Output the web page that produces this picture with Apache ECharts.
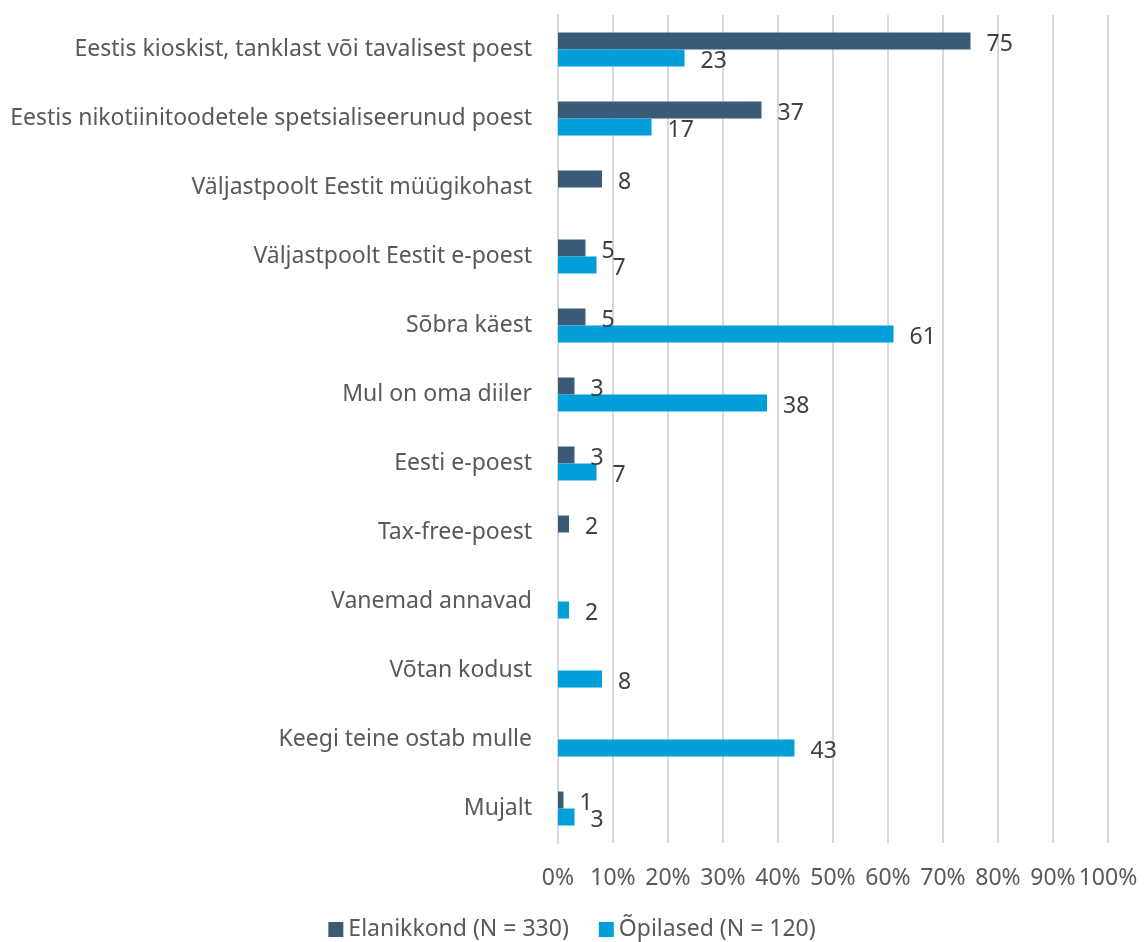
<!DOCTYPE html>
<html>
<head>
<meta charset="utf-8">
<script src="https://cdn.jsdelivr.net/npm/echarts@6/dist/echarts.min.js"></script>
<style>
  html, body { margin: 0; padding: 0; background: #fff; }
  #chart { width: 1144px; height: 942px; }
</style>
</head>
<body>
<div id="chart"></div>
<script>
// kategooriad ülevalt alla
var categories = [
  "Eestis kioskist, tanklast või tavalisest poest",
  "Eestis nikotiinitoodetele spetsialiseerunud poest",
  "Väljastpoolt Eestit müügikohast",
  "Väljastpoolt Eestit e-poest",
  "Sõbra käest",
  "Mul on oma diiler",
  "Eesti e-poest",
  "Tax-free-poest",
  "Vanemad annavad",
  "Võtan kodust",
  "Keegi teine ostab mulle",
  "Mujalt"
];
var elanikkond = [75, 37, 8, 5, 5, 3, 3, 2, null, null, null, 1];
var opilased = [23, 17, null, 7, 61, 38, 7, null, 2, 8, 43, 3];
var xTicks = [0, 100, 10];

var font = "Noto Sans";
var fs = 23;
var chart = echarts.init(document.getElementById("chart"));

var labelOpt = {
  show: true,
  position: "right",
  distance: 16,
  color: "#404040",
  fontSize: fs,
  fontFamily: font,
  offset: [0, 3]
};

chart.setOption({
  animation: false,
  textStyle: { fontFamily: font },
  grid: { left: 558, right: 36, top: 15, bottom: 99, outerBoundsMode: "none" },
  legend: {
    bottom: -4,
    itemWidth: 15,
    itemHeight: 15,
    itemGap: 30,
    itemStyle: { borderWidth: 0 },
    icon: "rect",
    textStyle: { fontSize: fs, color: "#595959", fontFamily: font },
    data: ["Elanikkond (N = 330)", "Õpilased (N = 120)"]
  },
  xAxis: {
    type: "value",
    min: xTicks[0],
    max: xTicks[1],
    interval: xTicks[2],
    axisLabel: {
      formatter: "{value}%",
      fontSize: fs,
      color: "#595959",
      margin: 24,
      fontFamily: font
    },
    axisLine: { show: false },
    axisTick: { show: false },
    splitLine: { lineStyle: { color: "#d9d9d9", width: 2 } }
  },
  yAxis: {
    type: "category",
    inverse: true,
    data: categories,
    axisLabel: {
      fontSize: fs,
      color: "#595959",
      margin: 26,
      fontFamily: font
    },
    axisLine: { lineStyle: { color: "#d9d9d9", width: 2 } },
    axisTick: { show: false }
  },
  series: [
    {
      name: "Elanikkond (N = 330)",
      type: "bar",
      data: elanikkond,
      barWidth: 17,
      barGap: "0%",
      itemStyle: { color: "#3a5a78" },
      label: labelOpt
    },
    {
      name: "Õpilased (N = 120)",
      type: "bar",
      data: opilased,
      barWidth: 17,
      barGap: "0%",
      itemStyle: { color: "#009fda" },
      label: labelOpt
    }
  ]
});
</script>
</body>
</html>
